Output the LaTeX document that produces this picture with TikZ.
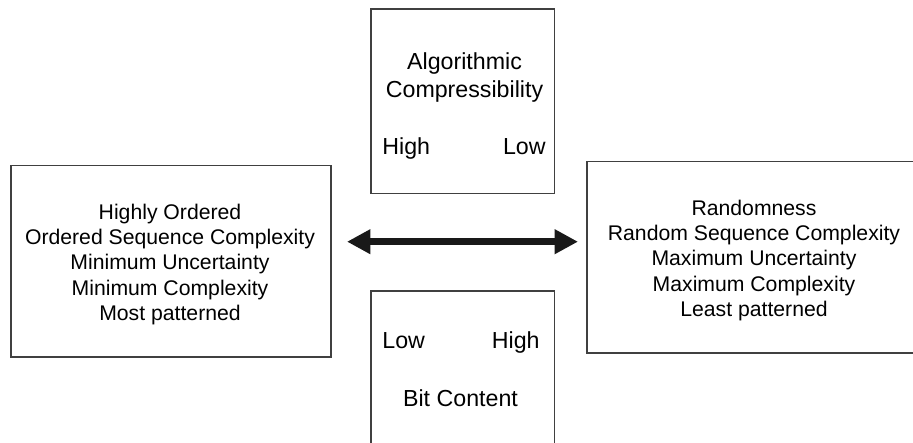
\documentclass[tikz,border=0pt]{standalone}
\usepackage{fontspec}
\setmainfont{Liberation Sans}
\usetikzlibrary{arrows.meta}
\begin{document}
\begin{tikzpicture}[x=0.5pt,y=-0.5pt,
  frame/.style={draw=black!75, line width=0.8pt, inner sep=0pt, outer sep=0pt},
  bigtext/.style={font=\fontsize{10.6}{12.7}\selectfont, align=center, inner sep=0pt},
  smalltext/.style={font=\fontsize{11.6}{14}\selectfont, inner sep=0pt},
  span/.style={line width=3.3pt, draw=black!90,
    {Triangle[length=11.7pt,width=11.7pt]}-{Triangle[length=11.7pt,width=11.7pt]}}]
\useasboundingbox (0,0) rectangle (913,443);
\clip (0,0) rectangle (913,443);

% frames
\node[frame, minimum width=91.8pt, minimum height=92pt] (topbox) at (462.5,101.3) {};
\node[frame, minimum width=91.8pt, minimum height=92pt] (botbox) at (462.5,382.7) {};
\node[frame, minimum width=160pt, minimum height=95.5pt] (leftbox) at (170.7,261.2) {};
\node[frame, minimum width=167pt, minimum height=95.5pt] (rightbox) at (753.7,257.2) {};

% top box labels
\node[smalltext, anchor=base] (algo) at (464.5,70) {Algorithmic};
\node[smalltext, anchor=base] (compr) at (464.5,98) {Compressibility};
\node[smalltext, anchor=base west] (hiA) at (382,155) {High};
\node[smalltext, anchor=base east] (loA) at (546,155) {Low};

% bottom box labels
\node[smalltext, anchor=base west] (loB) at (382,348) {Low};
\node[smalltext, anchor=base east] (hiB) at (540,348) {High};
\node[smalltext, anchor=base] (bits) at (460.5,406) {Bit Content};

% side box texts
\node[bigtext] (ordered) at (170,264.4) {Highly Ordered\\Ordered Sequence Complexity\\Minimum Uncertainty\\Minimum Complexity\\Most patterned};
\node[bigtext] (random) at (754,260.5) {Randomness\\Random Sequence Complexity\\Maximum Uncertainty\\Maximum Complexity\\Least patterned};

% double-headed arrow
\coordinate (tipL) at (347,241.7);
\coordinate (tipR) at (578,241.7);
\draw[span] (tipL) -- (tipR);
\end{tikzpicture}
\end{document}
